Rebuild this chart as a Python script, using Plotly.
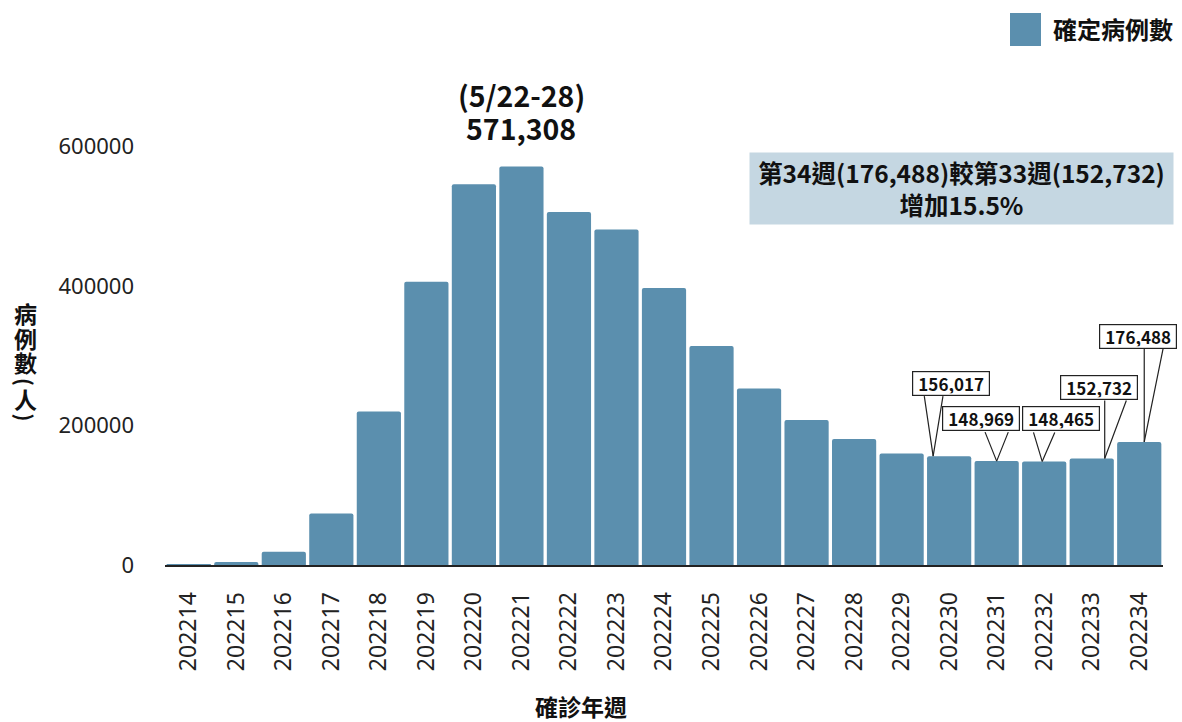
import plotly.graph_objects as go

# ---------------- data ----------------
weeks = ["202214", "202215", "202216", "202217", "202218", "202219", "202220",
         "202221", "202222", "202223", "202224", "202225", "202226", "202227",
         "202228", "202229", "202230", "202231", "202232", "202233", "202234"]
cases = [600, 4200, 19000, 74000, 220000, 406000, 546000,
         571308, 506000, 481000, 397000, 314000, 253000, 208000,
         180500, 160000, 156017, 148969, 148465, 152732, 176488]
series_name = "確定病例數"
y_ticks = [0, 200000, 400000, 600000]
peak_week = "202221"
peak_range = "(5/22-28)"
callout_weeks = ["202230", "202231", "202232", "202233", "202234"]
info_text = "第34週(176,488)較第33週(152,732)<br>增加15.5%"
x_title = "確診年週"
y_title_glyphs = ["病", "例", "數", "(", "人", ")"]

# ---------------- layout constants (pixels) ----------------
W, H = 1182, 722
ML, MR, MT, MB = 165, 19, 74, 157
PW, PH = W - ML - MR, H - MT - MB
BAR_COLOR = "#5b8fae"
CJK = "Noto Sans CJK TC"


def pxx(x):
    return (x - ML) / PW


def pxy(y):
    return (H - MB - y) / PH


value_of = dict(zip(weeks, cases))
index_of = {w: i for i, w in enumerate(weeks)}

fig = go.Figure()
fig.add_trace(go.Bar(
    x=weeks, y=cases, name=series_name,
    marker=dict(color=BAR_COLOR, line=dict(width=0)),
    showlegend=False,
))

annotations = []

# peak label (two lines, set tighter than the default line height)
for txt, shift in ((peak_range, 72), (f"{value_of[peak_week]:,}", 39.5)):
    annotations.append(dict(
        x=index_of[peak_week], y=value_of[peak_week], xref="x", yref="y",
        text=f"<b>{txt}</b>", showarrow=False,
        yanchor="middle", yshift=shift,
        font=dict(family=CJK, size=28.5, color="#111"),
    ))

# callouts: (tip x shift, box offset x, box offset y, leg1 dx, leg2 dx, leg dy)
callout_style = [
    (-16, 17.5, -72.5, -9, 10, -61),
    (0, -15.5, -42.5, -12, 12, -30),
    (-2, 18.5, -42.5, -9, 13, -30),
    (13, -6, -71, 0, 22, -59),
    (5, -6.5, -105.5, 0, 19, -94),
]
legs = []
boxes = []
for wk, (tx, bx, by, l1, l2, ly) in zip(callout_weeks, callout_style):
    v = value_of[wk]
    xi = index_of[wk]
    for lx in (l1, l2):
        legs.append(dict(
            x=xi, y=v, xref="x", yref="y", xshift=tx,
            ax=lx, ay=ly, text=" ", font=dict(size=1),
            showarrow=True, arrowhead=0, arrowwidth=1.2,
            arrowcolor="#222", standoff=0, startstandoff=0, borderpad=0,
        ))
    boxes.append(dict(
        x=xi, y=v, xref="x", yref="y", xshift=tx,
        ax=bx, ay=by, text=f"<b>{v:,}</b>",
        showarrow=True, arrowcolor="rgba(0,0,0,0)", arrowwidth=0.1,
        bgcolor="white", bordercolor="#222", borderwidth=1.2, borderpad=2,
        width=72, height=19,
        font=dict(family=CJK, size=17, color="#111"),
    ))
annotations += legs + boxes

# info box
annotations.append(dict(
    x=pxx(961.5), y=pxy(188.5), xref="paper", yref="paper",
    text=f"<b>{info_text}</b>", showarrow=False,
    xanchor="center", yanchor="middle",
    bgcolor="#c5d7e2", width=423, height=71, borderpad=0,
    font=dict(family=CJK, size=24.5, color="#111"),
))

# legend text
annotations.append(dict(
    x=pxx(1051), y=pxy(29), xref="paper", yref="paper",
    text=f"<b>{series_name}</b>", showarrow=False,
    xanchor="left", yanchor="middle",
    font=dict(family=CJK, size=24, color="#111"),
))

# x-axis title
annotations.append(dict(
    x=pxx(581), y=pxy(706), xref="paper", yref="paper",
    text=f"<b>{x_title}</b>", showarrow=False,
    xanchor="center", yanchor="middle",
    font=dict(family=CJK, size=23, color="#111"),
))

# y-axis title (vertical, upright glyphs; brackets turned to vertical form)
glyph_y = [313, 337.5, 362, 382, 399, 417.5]
glyph_angle = [0, 0, 0, 90, 0, 90]
glyph_size = [23, 23, 23, 21, 23, 21]
for g, gy, ang, sz in zip(y_title_glyphs, glyph_y, glyph_angle, glyph_size):
    annotations.append(dict(
        x=pxx(25), y=pxy(gy), xref="paper", yref="paper",
        text=f"<b>{g}</b>", showarrow=False, textangle=ang,
        xanchor="center", yanchor="middle",
        font=dict(family=CJK, size=sz, color="#111"),
    ))

fig.update_layout(
    width=W, height=H,
    margin=dict(l=ML, r=MR, t=MT, b=MB, pad=0),
    paper_bgcolor="white", plot_bgcolor="white",
    bargap=0.07, barcornerradius=2,
    annotations=annotations,
    shapes=[dict(
        type="rect", xref="paper", yref="paper",
        x0=pxx(1010), x1=pxx(1041), y0=pxy(46), y1=pxy(13),
        fillcolor=BAR_COLOR, line=dict(width=0),
    )],
    xaxis=dict(
        type="category", showgrid=False, zeroline=False,
        range=[-0.5, len(weeks) - 0.5],
        showline=True, linecolor="#222", linewidth=2,
        ticks="", tickangle=-90, ticklabelstandoff=16,
        tickfont=dict(family="Noto Sans", size=23, color="#222"),
    ),
    yaxis=dict(
        range=[0, 704000], showgrid=False, zeroline=False, showline=False,
        tickvals=y_ticks, ticktext=[str(t) for t in y_ticks],
        ticks="", ticklabelstandoff=30,
        tickfont=dict(family="Noto Sans", size=22, color="#222"),
    ),
)

fig.write_html(
    "out.html",
    config={"displayModeBar": False},
    post_script="document.body.style.margin='0';document.body.style.overflow='hidden';",
)
